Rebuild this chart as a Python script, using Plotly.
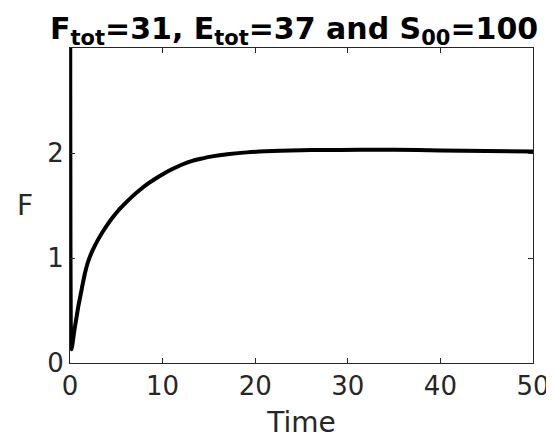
import plotly.graph_objects as go

# Data
time = [0, 0.02, 0.05, 0.08, 0.12, 0.18, 0.3, 0.45, 0.6, 0.75, 0.9, 1.1, 1.3,
        1.6, 1.9, 2.3, 2.65, 3.0, 3.5, 4.1, 4.6, 5.2, 5.9, 6.65, 7.5, 8.45,
        9.3, 10.25, 11.0, 12.05, 13.3, 14.0, 15.5, 17.0, 19.1, 22.7, 25, 27,
        31.3, 35, 40, 45, 50]
F = [31, 3.5, 1.2, 0.45, 0.18, 0.13, 0.2, 0.3, 0.38, 0.46, 0.54, 0.63, 0.72,
     0.85, 0.95, 1.045, 1.11, 1.17, 1.245, 1.325, 1.385, 1.45, 1.515, 1.58,
     1.645, 1.71, 1.76, 1.81, 1.845, 1.888, 1.928, 1.943, 1.97, 1.988, 2.006,
     2.021, 2.026, 2.029, 2.03, 2.03, 2.025, 2.02, 2.015]
x_ticks = [0, 10, 20, 30, 40, 50]
y_ticks = [0, 1, 2]

FONT = "DejaVu Sans"
AX = "#262626"

fig = go.Figure(go.Scatter(x=time, y=F, mode="lines",
                           line=dict(color="black", width=4, shape="spline",
                                     smoothing=0.6),
                           hoverinfo="skip", showlegend=False))

axis_common = dict(showgrid=False, zeroline=False, showline=True, linecolor=AX,
                   linewidth=1, mirror="allticks", ticks="inside", ticklen=5,
                   tickcolor=AX, tickwidth=1, automargin=False,
                   ticklabeloverflow="allow",
                   tickfont=dict(family=FONT, size=26, color=AX))

# page body adds an 8px offset; figure sized so it fits the 554x446 window
fig.update_layout(
    width=546, height=438,
    margin=dict(l=62, r=21, t=40, b=83, autoexpand=False),
    paper_bgcolor="white", plot_bgcolor="white",
    title=dict(text="<b>F<sub>tot</sub>=31, E<sub>tot</sub>=37 and S<sub>00</sub>=100</b>",
               x=0.524, xref="container", xanchor="center",
               y=0.93, yref="container", yanchor="bottom",
               font=dict(family=FONT, size=30, color="black")),
    xaxis=dict(range=[0, 50], tickvals=x_ticks, **axis_common,
               title=dict(text="Time", standoff=12,
                          font=dict(family=FONT, size=28, color=AX))),
    yaxis=dict(range=[0, 3], tickvals=y_ticks, **axis_common),
    annotations=[dict(text="F", xref="paper", yref="paper", x=-0.075, y=0.5,
                      xanchor="right", yanchor="middle", showarrow=False,
                      font=dict(family=FONT, size=28, color=AX))],
)

fig.write_html("out.html")
